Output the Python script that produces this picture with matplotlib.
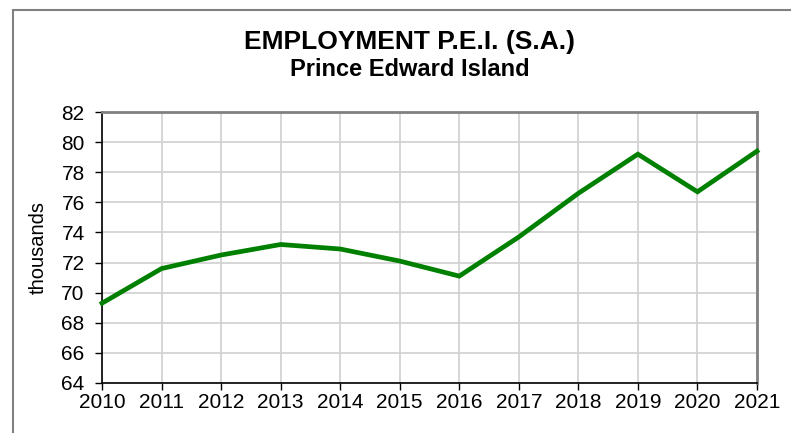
import matplotlib
matplotlib.use("Agg")
import matplotlib.pyplot as plt
from matplotlib.patches import Rectangle

years = [2010, 2011, 2012, 2013, 2014, 2015, 2016, 2017, 2018, 2019, 2020, 2021]
employment = [69.3, 71.6, 72.5, 73.2, 72.9, 72.1, 71.1, 73.7, 76.6, 79.2, 76.7, 79.4]
y_ticks = [64, 66, 68, 70, 72, 74, 76, 78, 80, 82]

plt.rcParams["font.family"] = ["Liberation Sans", "DejaVu Sans"]

W, H = 791, 433
fig = plt.figure(figsize=(W / 100, H / 100), dpi=100)

# outer chart border (cropped on right and bottom)
fig.patches.append(Rectangle((13 / W, -0.1), 1.2, 1 - 10 / H + 0.1,
                             transform=fig.transFigure, fill=False,
                             edgecolor="#808080", linewidth=1.5))

ax = fig.add_axes([102 / W, 1 - 383 / H, (757 - 102) / W, (383 - 112) / H])
ax.plot(years, employment, color="#008000", linewidth=3.4, solid_joinstyle="miter",
        clip_on=False, zorder=3)

ax.set_xlim(2010, 2021)
ax.set_ylim(64, 82)
ax.set_xticks(years)
ax.set_yticks(y_ticks)
ax.tick_params(labelsize=15, direction="out", length=5, width=1)
ax.tick_params(axis="x", pad=2)
ax.tick_params(axis="y", pad=7.5)
ax.grid(True, color="#d0d0d0", linewidth=1.2)
ax.set_axisbelow(True)

for side in ("left", "bottom"):
    ax.spines[side].set_color("black")
    ax.spines[side].set_linewidth(1.2)
for side in ("top", "right"):
    ax.spines[side].set_color("#808080")
    ax.spines[side].set_linewidth(2)

ax.set_ylabel("thousands", fontsize=14.5)
ax.yaxis.set_label_coords(-54 / (757 - 102), 0.5)

fig.text(410 / W, 1 - 42 / H, "EMPLOYMENT P.E.I. (S.A.)", ha="center", va="center",
         fontsize=19, fontweight="bold")
fig.text(410 / W, 1 - 69 / H, "Prince Edward Island", ha="center", va="center",
         fontsize=17, fontweight="bold")

fig.savefig("out.png", dpi=100)
